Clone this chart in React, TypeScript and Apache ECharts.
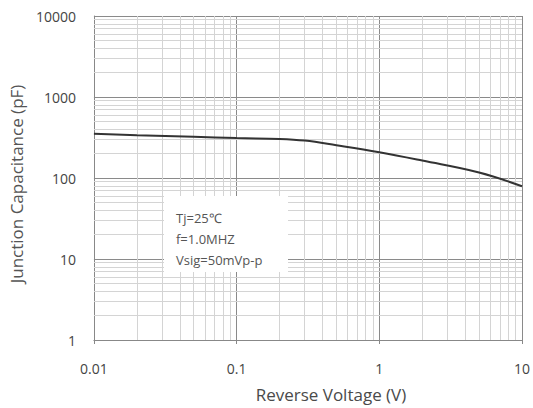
import React, { useEffect, useRef } from "react";
import * as echarts from "echarts";

const voltage = [0.01, 0.02, 0.05, 0.1, 0.2, 0.3, 0.5, 1, 2, 5, 10];
const capacitance = [351, 338, 324, 311, 304, 290, 254, 208, 164, 117, 79];
const xTickLabels = ["0.01", "0.1", "1", "10"];
const yTickLabels = ["1", "10", "100", "1000", "10000"];
const noteLines = ["Tj=25\u2103", "f=1.0MHZ", "Vsig=50mVp-p"];

const FONT = "'Open Sans', Lato, sans-serif";

function minorValues(first: number, last: number): number[] {
  const out: number[] = [];
  for (let d = first; d < last * 0.999; d *= 10) {
    for (let m = 2; m <= 9; m++) out.push(+(d * m).toPrecision(6));
  }
  return out;
}

export default function App() {
  const ref = useRef<HTMLDivElement>(null);
  useEffect(() => {
    if (!ref.current) return;
    const chart = echarts.init(ref.current, null, { renderer: "svg" });
    const xMinor = minorValues(0.01, 10);
    const yMinor = minorValues(1, 10000);
    const labelFor = (labels: string[], base: number) => (v: number) => {
      const i = Math.round(Math.log10(v / base));
      return labels[i] ?? "";
    };
    chart.setOption({
      animation: false,
      grid: { left: 91, right: 6, top: 16, bottom: 66 },
      xAxis: {
        type: "log",
        logBase: 10,
        min: 0.01,
        max: 10,
        name: "Reverse Voltage (V)",
        nameLocation: "middle",
        nameGap: 46,
        nameTextStyle: { fontFamily: FONT, fontSize: 17, color: "#4a4a4a", padding: [0, 0, 0, 46] },
        axisLine: { show: true, lineStyle: { color: "#888", width: 1 } },
        axisTick: { show: true, length: 4, lineStyle: { color: "#888" } },
        axisLabel: {
          margin: 21,
          fontFamily: FONT,
          fontSize: 14,
          color: "#444",
          formatter: labelFor(xTickLabels, 0.01),
        },
        splitLine: { show: true, lineStyle: { color: "#8a8a8a", width: 1 } },
      },
      yAxis: {
        type: "log",
        logBase: 10,
        min: 1,
        max: 10000,
        name: "Junction Capacitance (pF)",
        nameLocation: "middle",
        nameGap: 62,
        nameTextStyle: { fontFamily: FONT, fontSize: 17, color: "#555", padding: [0, 12, 0, 0] },
        axisLine: { show: true, lineStyle: { color: "#888", width: 1 } },
        axisTick: { show: false },
        axisLabel: {
          margin: 18,
          fontFamily: FONT,
          fontSize: 14,
          color: "#444",
          formatter: labelFor(yTickLabels, 1),
        },
        splitLine: { show: true, lineStyle: { color: "#8a8a8a", width: 1 } },
      },
      graphic: [
        {
          type: "rect",
          z: 50,
          shape: { x: 164, y: 196, width: 124, height: 76 },
          style: { fill: "#ffffff" },
        },
        ...noteLines.map((t, i) => ({
          type: "text",
          z: 51,
          x: 176,
          y: 218 + i * 21,
          style: {
            text: t,
            fontFamily: FONT,
            fontSize: 13,
            fill: "#555",
            verticalAlign: "middle",
          },
        })),
      ],
      series: [
        {
          type: "line",
          data: [],
          silent: true,
          z: 1,
          markLine: {
            silent: true,
            symbol: "none",
            label: { show: false },
            lineStyle: { color: "#d4d4d4", width: 1, type: "solid" },
            data: [
              ...xMinor.map((v) => ({ xAxis: v })),
              ...yMinor.map((v) => ({ yAxis: v })),
            ],
          },
        },
        {
          type: "line",
          z: 5,
          data: voltage.map((v, i) => [v, capacitance[i]]),
          smooth: 0.4,
          showSymbol: false,
          lineStyle: { color: "#333", width: 2 },
        },
      ],
    });
    return () => chart.dispose();
  }, []);
  return (
    <div
      ref={ref}
      style={{ position: "absolute", left: 0, top: 0, width: 533, height: 408, background: "#fff" }}
    />
  );
}
